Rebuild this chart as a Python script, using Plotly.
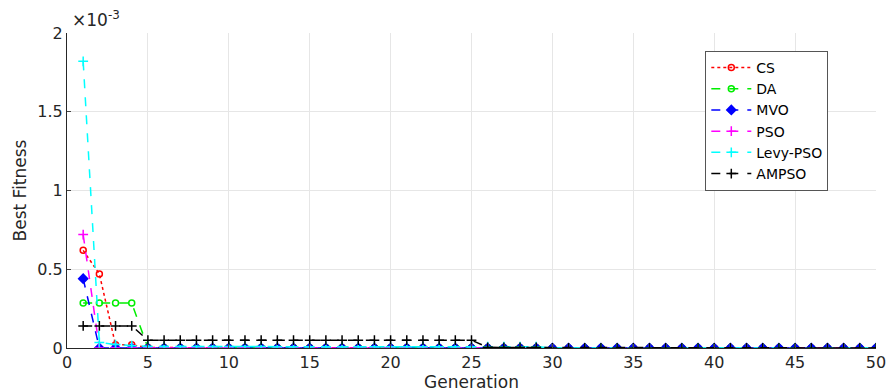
import plotly.graph_objects as go

generation = list(range(1, 51))

cs = [0.62e-3, 0.47e-3, 0.02e-3, 0.02e-3, 0.003e-3, 0.002e-3, 0.002e-3, 0.002e-3, 0.001e-3, 0.001e-3,
      0.001e-3, 0.001e-3, 0.001e-3, 0.001e-3, 0.001e-3, 0.001e-3, 0.001e-3, 0.001e-3, 0.001e-3, 0.001e-3,
      0.001e-3, 0.001e-3, 0.001e-3, 0.001e-3, 0.001e-3, 0.001e-3, 0.001e-3, 0.001e-3, 0.001e-3, 0.0,
      0.0, 0.0, 0.0, 0.0, 0.0, 0.0, 0.0, 0.0, 0.0, 0.0,
      0.0, 0.0, 0.0, 0.0, 0.0, 0.0, 0.0, 0.0, 0.0, 0.0]
da = [0.285e-3, 0.285e-3, 0.285e-3, 0.285e-3, 0.002e-3, 0.002e-3, 0.002e-3, 0.002e-3, 0.002e-3, 0.002e-3,
      0.002e-3, 0.002e-3, 0.002e-3, 0.002e-3, 0.002e-3, 0.002e-3, 0.002e-3, 0.002e-3, 0.002e-3, 0.002e-3,
      0.002e-3, 0.002e-3, 0.002e-3, 0.002e-3, 0.002e-3, 0.001e-3, 0.001e-3, 0.001e-3, 0.001e-3, 0.0,
      0.0, 0.0, 0.0, 0.0, 0.0, 0.0, 0.0, 0.0, 0.0, 0.0,
      0.0, 0.0, 0.0, 0.0, 0.0, 0.0, 0.0, 0.0, 0.0, 0.0]
mvo = [0.44e-3, 0.0, 0.0, 0.0, 0.0, 0.0, 0.0, 0.0, 0.0, 0.0,
       0.0, 0.0, 0.0, 0.0, 0.0, 0.0, 0.0, 0.0, 0.0, 0.0,
       0.0, 0.0, 0.0, 0.0, 0.0, 0.0, 0.0, 0.0, 0.0, 0.0,
       0.0, 0.0, 0.0, 0.0, 0.0, 0.0, 0.0, 0.0, 0.0, 0.0,
       0.0, 0.0, 0.0, 0.0, 0.0, 0.0, 0.0, 0.0, 0.0, 0.0]
pso = [0.72e-3, 0.0, 0.0, 0.0, 0.0, 0.0, 0.0, 0.0, 0.0, 0.0,
       0.0, 0.0, 0.0, 0.0, 0.0, 0.0, 0.0, 0.0, 0.0, 0.0,
       0.0, 0.0, 0.0, 0.0, 0.0, 0.0, 0.0, 0.0, 0.0, 0.0,
       0.0, 0.0, 0.0, 0.0, 0.0, 0.0, 0.0, 0.0, 0.0, 0.0,
       0.0, 0.0, 0.0, 0.0, 0.0, 0.0, 0.0, 0.0, 0.0, 0.0]
levy_pso = [1.82e-3, 0.035e-3, 0.022e-3, 0.015e-3, 0.01e-3, 0.009e-3, 0.009e-3, 0.009e-3, 0.009e-3, 0.009e-3,
            0.009e-3, 0.009e-3, 0.008e-3, 0.008e-3, 0.008e-3, 0.008e-3, 0.008e-3, 0.008e-3, 0.008e-3, 0.008e-3,
            0.008e-3, 0.008e-3, 0.008e-3, 0.008e-3, 0.008e-3, 0.008e-3, 0.008e-3, 0.008e-3, 0.008e-3, 0.0,
            0.0, 0.0, 0.0, 0.0, 0.0, 0.0, 0.0, 0.0, 0.0, 0.0,
            0.0, 0.0, 0.0, 0.0, 0.0, 0.0, 0.0, 0.0, 0.0, 0.0]
ampso = [0.14e-3, 0.14e-3, 0.14e-3, 0.14e-3, 0.05e-3, 0.05e-3, 0.05e-3, 0.05e-3, 0.05e-3, 0.05e-3,
         0.05e-3, 0.05e-3, 0.05e-3, 0.05e-3, 0.05e-3, 0.05e-3, 0.05e-3, 0.05e-3, 0.05e-3, 0.05e-3,
         0.05e-3, 0.05e-3, 0.05e-3, 0.05e-3, 0.05e-3, 0.004e-3, 0.004e-3, 0.004e-3, 0.004e-3, 0.0,
         0.0, 0.0, 0.0, 0.0, 0.0, 0.0, 0.0, 0.0, 0.0, 0.0,
         0.0, 0.0, 0.0, 0.0, 0.0, 0.0, 0.0, 0.0, 0.0, 0.0]

y_tickvals = [0, 0.5e-3, 1e-3, 1.5e-3, 2e-3]
y_ticktext = ["0", "0.5", "1", "1.5", "2"]
x_tickvals = [0, 5, 10, 15, 20, 25, 30, 35, 40, 45, 50]

series = [
    ("CS", cs, "#ff0000", "dot", "circle-open", 6),
    ("DA", da, "#00ee00", "dash", "circle-open", 6),
    ("MVO", mvo, "#0000ff", "dash", "diamond", 7),
    ("PSO", pso, "#ff00ff", "dash", "cross-thin-open", 7),
    ("Levy-PSO", levy_pso, "#00ffff", "dash", "cross-thin-open", 7),
    ("AMPSO", ampso, "#000000", "dash", "cross-thin-open", 7),
]

FONT = "DejaVu Sans, Liberation Sans, Arial, sans-serif"

fig = go.Figure()
for name, vals, color, dash, sym, size in series:
    fig.add_trace(go.Scatter(
        x=generation, y=vals, name=name, mode="lines+markers",
        line=dict(color=color, width=1.5, dash=dash),
        marker=dict(symbol=sym, size=size, color=color, line=dict(color=color, width=1.5)),
    ))

fig.update_layout(
    width=887, height=392,
    margin=dict(l=67, r=11, t=33, b=44),
    paper_bgcolor="white", plot_bgcolor="white",
    font=dict(family=FONT, size=15, color="#262626"),
    showlegend=True,
    legend=dict(x=0.789, y=0.943, xanchor="left", yanchor="top",
                bordercolor="#555555", borderwidth=1, bgcolor="white",
                font=dict(family=FONT, size=14, color="#000000"),
                tracegroupgap=0, itemwidth=40),
    xaxis=dict(range=[0, 50], tickvals=x_tickvals, ticks="inside", ticklen=4,
               tickfont=dict(size=16), automargin=False, ticklabeloverflow="allow",
               showgrid=True, gridcolor="#e6e6e6", gridwidth=1,
               showline=True, linecolor="#262626", linewidth=1, zeroline=False,
               title=dict(text="Generation", font=dict(size=17), standoff=1)),
    yaxis=dict(range=[0, 2e-3], tickvals=y_tickvals, ticktext=y_ticktext,
               ticks="inside", ticklen=4, tickfont=dict(size=16), automargin=False,
               showgrid=True, gridcolor="#e6e6e6", gridwidth=1,
               showline=True, linecolor="#262626", linewidth=1, zeroline=False,
               title=dict(text="Best Fitness", font=dict(size=17), standoff=6)),
    annotations=[dict(text="×10<sup>-3</sup>", xref="paper", yref="paper",
                      x=0.0, y=1.0, xanchor="left", yanchor="bottom", showarrow=False,
                      font=dict(family=FONT, size=17, color="#262626"), xshift=3, yshift=1)],
)

# remove the default page margin so the figure fills the window exactly
fig.write_html("out.html",
               config={"displayModeBar": False},
               post_script="document.body.style.margin='0';document.body.style.overflow='hidden';")
